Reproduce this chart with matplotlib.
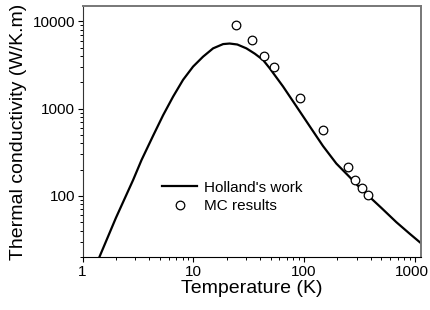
"""
    thermal conductivity vs temperature: Holland's model and MC results
"""

import matplotlib
matplotlib.use("Agg")
import matplotlib.pyplot as plt
from matplotlib.ticker import FuncFormatter
from matplotlib.transforms import ScaledTranslation

plt.rcParams["font.family"] = ["Liberation Sans", "DejaVu Sans"]

# Holland's work
holland_T = [1.42, 2.0, 2.86, 3.41, 4.34, 5.34, 6.57, 8.09, 9.96, 12.25,
             15.1, 18.6, 21.3, 25, 30.2, 36, 42.7, 49, 64.7, 85.4, 112.5,
             148.5, 196, 258, 320, 393, 500, 684, 900, 1150]
holland_k = [20, 56, 152, 258, 490, 840, 1370, 2137, 3027, 3930,
             4895, 5480, 5560, 5420, 4895, 4250, 3605, 2900, 1792, 1062, 630,
             373, 235, 165, 124, 97, 73, 50, 37, 28.5]

# MC results
mc_T = [24.4, 34.2, 43.9, 53.7, 92.6, 149, 248, 288, 333, 380]
mc_k = [9000, 6035, 4035, 3030, 1325, 566, 215, 152, 123, 102]

fig = plt.figure(figsize=(4.3, 3.1), dpi=100)
ax = fig.add_axes([0.192, 0.171, 0.788, 0.810])

ax.plot(holland_T, holland_k, color="black", linewidth=1.6, label="Holland's work")
ax.plot(mc_T, mc_k, linestyle="none", marker="o", markersize=6.2,
        markerfacecolor="white", markeredgecolor="black", markeredgewidth=0.9,
        label="MC results")

ax.set_xscale("log")
ax.set_yscale("log")
ax.set_xlim(1, 1150)
ax.set_ylim(20, 15000)

fmt = FuncFormatter(lambda v, pos: "%d" % round(v))
ax.xaxis.set_major_formatter(fmt)
ax.yaxis.set_major_formatter(fmt)
ax.set_yticks([100, 1000, 10000])

ax.tick_params(which="major", direction="out", length=3.5, width=0.8,
               labelsize=11, top=False, right=False)
ax.tick_params(which="minor", direction="out", length=2, width=0.7,
               top=False, right=False)
ax.tick_params(axis="x", pad=2)
ax.tick_params(axis="y", pad=2)

for side in ["top", "right"]:
    ax.spines[side].set_color("#777777")
    ax.spines[side].set_linewidth(1.4)
ax.spines["left"].set_color("#333333")
ax.spines["bottom"].set_color("black")

ax.set_xlabel("Temperature (K)", fontsize=14, labelpad=1)
ax.set_ylabel("Thermal conductivity (W/K.m)", fontsize=14, labelpad=4)

ax.legend(loc="center left", bbox_to_anchor=(0.235, 0.239), frameon=False,
          fontsize=11, handlelength=2.3, handletextpad=0.45,
          labelspacing=0.3, borderpad=0, borderaxespad=0)

# nudge the last x label so it stays inside the figure
fig.canvas.draw()
for label in ax.get_xticklabels():
    if label.get_text() == "1000":
        label.set_transform(label.get_transform()
                            + ScaledTranslation(-3 / 100, 0, fig.dpi_scale_trans))

fig.savefig("out.png", dpi=100)
plt.close()
